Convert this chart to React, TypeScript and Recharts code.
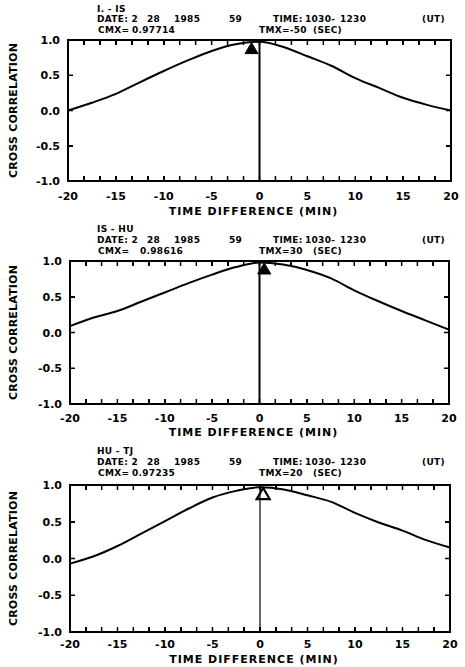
import React from 'react';
import { ComposedChart, Line, Scatter, XAxis, YAxis, ReferenceLine, ReferenceArea, Label } from 'recharts';

// ---- data ----
const lagMinutes = [-20, -17.5, -15, -12.5, -10, -7.5, -5, -2.5, 0, 2.5, 5, 7.5, 10, 12.5, 15, 17.5, 20];
const corrPanel1 = [0.0, 0.11, 0.235, 0.4, 0.56, 0.71, 0.845, 0.94, 0.975, 0.9, 0.77, 0.635, 0.46, 0.32, 0.18, 0.08, 0.0];
const corrPanel2 = [0.09, 0.21, 0.3, 0.43, 0.56, 0.69, 0.81, 0.915, 0.98, 0.95, 0.875, 0.76, 0.59, 0.44, 0.3, 0.17, 0.04];
const corrPanel3 = [-0.07, 0.03, 0.17, 0.34, 0.51, 0.68, 0.83, 0.92, 0.97, 0.94, 0.86, 0.77, 0.62, 0.49, 0.38, 0.25, 0.15];

const stationPairs = ['I. - IS', 'IS - HU', 'HU - TJ'];
const cmxLabels = ['0.97714', '0.98616', '0.97235'];
const cmxValues = [0.97714, 0.98616, 0.97235];
const tmxLabels = ['TMX=-50', 'TMX=30', 'TMX=20'];
const tmxSeconds = [-50, 30, 20];
const dateTokens = ['DATE: 2', '28', '1985', '59'];
const timeTokens = ['TIME:', '1030-', '1230', '(UT)'];

const yTicks = [-1, -0.5, 0, 0.5, 1];
const xMinorTicks = Array.from({ length: 25 }, (_, i) => -20 + (i * 5) / 3); // every 100 s
const xTickLabel = (v: number) => (Math.abs(v / 5 - Math.round(v / 5)) < 1e-6 ? String(Math.round(v)) : '');

const seriesList = [corrPanel1, corrPanel2, corrPanel3];

// ---- layout ----
const W = 465;
const FONT = '"DejaVu Sans", sans-serif';
const panels = [
  { top: 0, plotTop: 40, plotBottom: 181, plotLeft: 68, plotRight: 451, labelBase: 19, titleOff: 6, zeroW: 2, filled: true, rows: [9, 19, 30] },
  { top: 222, plotTop: 261, plotBottom: 404, plotLeft: 70, plotRight: 449, labelBase: 18, titleOff: 8, zeroW: 2, filled: true, rows: [229, 240, 251] },
  { top: 444, plotTop: 485, plotBottom: 632, plotLeft: 70, plotRight: 450, labelBase: 16, titleOff: 9, zeroW: 1.2, filled: false, rows: [451, 462, 473] },
];
const TICK_LEN = 5;

const textStyle: React.CSSProperties = {
  position: 'absolute',
  fontFamily: FONT,
  fontWeight: 700,
  fontSize: 9,
  letterSpacing: 0.3,
  lineHeight: '10px',
  color: '#000',
  whiteSpace: 'pre',
  transform: 'translateY(-50%)',
};

function Triangle(props: any) {
  const { cx, cy, filled } = props;
  if (cx == null || cy == null) return null;
  const d = `M${cx},${cy + 1}L${cx - 6.5},${cy + 12}L${cx + 6.5},${cy + 12}Z`;
  return filled ? (
    <path d={d} fill="#000" stroke="#000" strokeWidth={1} />
  ) : (
    <path d={d} fill="none" stroke="#000" strokeWidth={2.2} />
  );
}

// bottom-axis tick: inward tick on the bottom and top frame edges, label below
function makeXTick(p: (typeof panels)[number]) {
  const yb = p.plotBottom - p.top;
  const yt = p.plotTop - p.top;
  return function XTick(props: any) {
    const { x, payload } = props;
    const label = xTickLabel(payload.value);
    return (
      <g>
        <path d={`M${x},${yb}L${x},${yb - TICK_LEN}M${x},${yt}L${x},${yt + TICK_LEN}`} stroke="#000" strokeWidth={1.5} fill="none" />
        {label !== '' && (
          <text x={x} y={yb + p.labelBase} textAnchor="middle" fill="#000" fontFamily={FONT} fontWeight={700} fontSize={11}>
            {label}
          </text>
        )}
      </g>
    );
  };
}

// left-axis tick: inward tick on the left and right frame edges, label to the left
function makeYTick(p: (typeof panels)[number]) {
  return function YTick(props: any) {
    const { y, payload } = props;
    return (
      <g>
        <path
          d={`M${p.plotLeft},${y}L${p.plotLeft + TICK_LEN},${y}M${p.plotRight},${y}L${p.plotRight - TICK_LEN},${y}`}
          stroke="#000"
          strokeWidth={1.5}
          fill="none"
        />
        <text x={p.plotLeft - 8} y={y} dy={4} textAnchor="end" fill="#000" fontFamily={FONT} fontWeight={700} fontSize={11}>
          {Number(payload.value).toFixed(1)}
        </text>
      </g>
    );
  };
}

// HTML frame + inward tick marks over the plot box (same positions as the axis ticks)
function Frame({ idx }: { idx: number }) {
  const p = panels[idx];
  const w = p.plotRight - p.plotLeft;
  const h = p.plotBottom - p.plotTop;
  const tx = (v: number) => p.plotLeft + ((v + 20) / 40) * w;
  const ty = (v: number) => p.plotBottom - ((v + 1) / 2) * h;
  const mark = (left: number, top: number, width: number, height: number, key: string) => (
    <div key={key} style={{ position: 'absolute', left, top, width, height, background: '#000' }} />
  );
  return (
    <>
      <div
        style={{
          position: 'absolute',
          left: p.plotLeft - 1,
          top: p.plotTop - 1,
          width: w + 2,
          height: h + 2,
          border: '2px solid #000',
          boxSizing: 'border-box',
        }}
      />
      {xMinorTicks.map((v, i) => mark(tx(v) - 0.75, p.plotBottom - TICK_LEN, 1.5, TICK_LEN, 'b' + i))}
      {xMinorTicks.map((v, i) => mark(tx(v) - 0.75, p.plotTop, 1.5, TICK_LEN, 't' + i))}
      {yTicks.map((v, i) => mark(p.plotLeft, ty(v) - 0.75, TICK_LEN, 1.5, 'l' + i))}
      {yTicks.map((v, i) => mark(p.plotRight - TICK_LEN, ty(v) - 0.75, TICK_LEN, 1.5, 'r' + i))}
    </>
  );
}

function Panel({ idx }: { idx: number }) {
  const p = panels[idx];
  const values = seriesList[idx];
  const data = lagMinutes.map((x, i) => ({ x, y: values[i] }));
  const peak = [{ x: tmxSeconds[idx] / 60, y: cmxValues[idx] }];
  const height = p.plotBottom - p.top + 40;
  return (
    <div style={{ position: 'absolute', left: 0, top: p.top, width: W, height }}>
      <ComposedChart
        width={W}
        height={height}
        data={data}
        margin={{ top: p.plotTop - p.top, right: W - p.plotRight, bottom: 0, left: 0 }}
      >
        <XAxis
          dataKey="x"
          type="number"
          domain={[-20, 20]}
          ticks={xMinorTicks}
          interval={0}
          height={40}
          axisLine={{ stroke: '#000', strokeWidth: 2 }}
          tickLine={false}
          tick={makeXTick(p)}
        >
          <Label
            value="TIME DIFFERENCE (MIN)"
            position="insideBottom"
            offset={p.titleOff}
            dx={-6}
            style={{ fill: '#000', fontFamily: FONT, fontWeight: 700, fontSize: 11, letterSpacing: 1 }}
          />
        </XAxis>
        <YAxis
          type="number"
          domain={[-1, 1]}
          ticks={yTicks}
          interval={0}
          width={p.plotLeft}
          axisLine={{ stroke: '#000', strokeWidth: 2 }}
          tickLine={false}
          tick={makeYTick(p)}
        >
          <Label
            value="CROSS CORRELATION"
            angle={-90}
            position="insideLeft"
            offset={13}
            style={{ textAnchor: 'middle', fill: '#000', fontFamily: FONT, fontWeight: 700, fontSize: 11, letterSpacing: 0.2 }}
          />
        </YAxis>
        <ReferenceArea x1={-20} x2={20} y1={-1} y2={1} fill="none" stroke="#000" strokeWidth={2} ifOverflow="visible" />
        <ReferenceLine x={0} stroke="#000" strokeWidth={p.zeroW} />
        <Line
          type="monotone"
          dataKey="y"
          stroke="#000"
          strokeWidth={2}
          dot={false}
          activeDot={false}
          isAnimationActive={false}
        />
        <Scatter
          data={peak}
          dataKey="y"
          shape={(sp: any) => <Triangle {...sp} filled={p.filled} />}
          isAnimationActive={false}
        />
      </ComposedChart>
    </div>
  );
}

function Header({ idx }: { idx: number }) {
  const p = panels[idx];
  const [r1, r2, r3] = p.rows;
  return (
    <>
      <span style={{ ...textStyle, left: 97, top: r1 }}>{stationPairs[idx]}</span>
      <span style={{ ...textStyle, left: 97, top: r2 }}>{dateTokens[0]}</span>
      <span style={{ ...textStyle, left: 147, top: r2 }}>{dateTokens[1]}</span>
      <span style={{ ...textStyle, left: 174, top: r2 }}>{dateTokens[2]}</span>
      <span style={{ ...textStyle, left: 229, top: r2 }}>{dateTokens[3]}</span>
      <span style={{ ...textStyle, left: 273, top: r2 }}>{timeTokens[0]}</span>
      <span style={{ ...textStyle, left: 305, top: r2 }}>{timeTokens[1]}</span>
      <span style={{ ...textStyle, left: 340, top: r2 }}>{timeTokens[2]}</span>
      <span style={{ ...textStyle, left: 422, top: r2 }}>{timeTokens[3]}</span>
      <span style={{ ...textStyle, left: 98, top: r3 }}>CMX=</span>
      <span style={{ ...textStyle, left: idx === 1 ? 140 : 132, top: r3 }}>{cmxLabels[idx]}</span>
      <span style={{ ...textStyle, left: 259, top: r3 }}>{tmxLabels[idx]}</span>
      <span style={{ ...textStyle, left: 313, top: r3 }}>(SEC)</span>
    </>
  );
}

export default function App() {
  return (
    <div style={{ position: 'absolute', left: 0, top: 0, width: W, height: 667, background: '#fff' }}>
      {panels.map((_, i) => (
        <Panel key={i} idx={i} />
      ))}
      {panels.map((_, i) => (
        <Frame key={'f' + i} idx={i} />
      ))}
      {panels.map((_, i) => (
        <Header key={'h' + i} idx={i} />
      ))}
    </div>
  );
}
